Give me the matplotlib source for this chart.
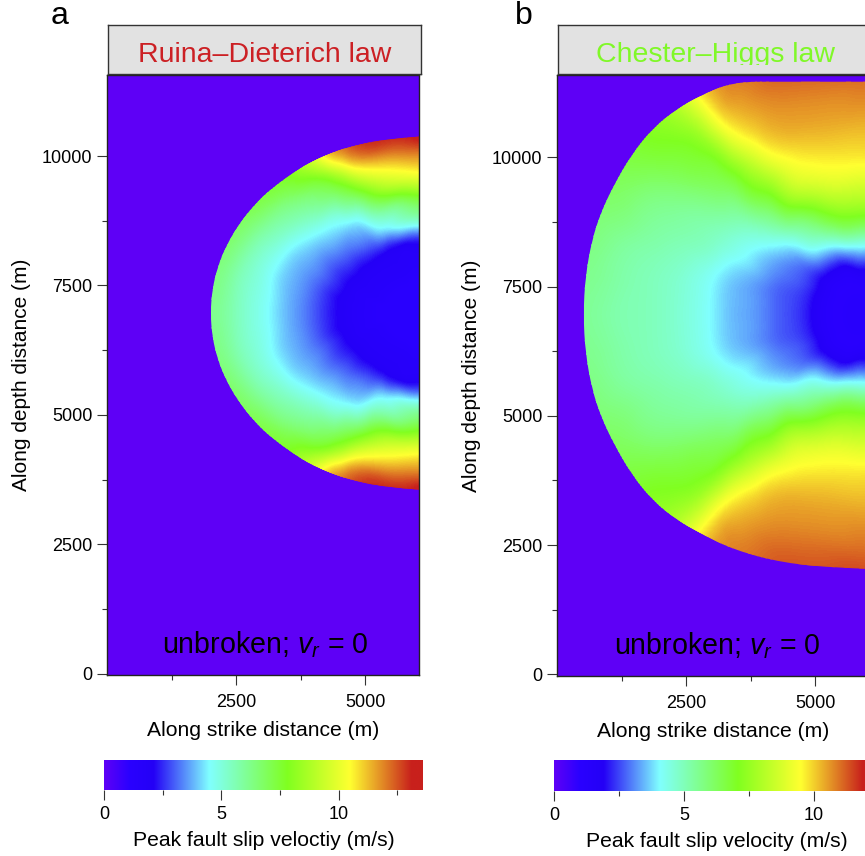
# -*- coding: utf-8 -*-
import numpy as np
import matplotlib
matplotlib.use('Agg')
import matplotlib.pyplot as plt
import matplotlib.tri as mtri
from matplotlib.colors import LinearSegmentedColormap
from matplotlib.path import Path
from matplotlib.patches import PathPatch, Rectangle

plt.rcParams['font.family'] = ['Liberation Sans', 'DejaVu Sans']
plt.rcParams['mathtext.fontset'] = 'custom'
plt.rcParams['mathtext.rm'] = 'Liberation Sans'
plt.rcParams['mathtext.it'] = 'Liberation Sans:italic'

W, H = 865, 856

# colour scale stops
cmap_pos = [0, 0.08, 0.155, 0.33, 0.575, 0.772, 0.965, 1]
cmap_col = ['#5e00f6', '#2a00ff', '#2400f6', '#80ffff', '#80ff20', '#ffff30', '#c8201c', '#c8201c']

# fractions of the way from the patch centre to the rim
frac = [0, 0.1, 0.2, 0.3, 0.41, 0.5, 0.6, 0.7, 0.8, 0.9, 1.0]

# panel a: rim of the broken patch, left edge to the top, offset from centre depth
center_a = (6040, 6965)
rim_x_a = [2000, 2039, 2138, 2294, 2541, 2856, 3183, 3723, 4020, 4333, 4658, 5338, 6040]
rim_off_a = [0, 475, 883, 1277, 1705, 2099, 2411, 2793, 2953, 3090, 3204, 3358, 3410]
peak_a = [
    [1.2, 1.2, 1.3, 1.6, 2.2, 2.9, 3.6, 4.3, 5.0, 5.7, 6.2],
    [1.2, 1.2, 1.3, 1.6, 2.2, 2.9, 3.6, 4.3, 5.0, 5.7, 6.3],
    [1.2, 1.2, 1.3, 1.6, 2.2, 2.9, 3.6, 4.2, 5.0, 5.7, 6.4],
    [1.2, 1.2, 1.4, 1.6, 2.3, 3.0, 3.6, 4.2, 5.0, 5.8, 6.6],
    [1.2, 1.2, 1.4, 1.7, 2.3, 3.0, 3.7, 4.3, 5.2, 6.0, 6.8],
    [1.2, 1.2, 1.4, 1.7, 2.4, 3.1, 3.8, 4.6, 5.5, 6.3, 7.1],
    [1.2, 1.2, 1.4, 1.7, 2.4, 3.2, 4.0, 4.9, 5.8, 6.6, 7.4],
    [1.2, 1.2, 1.4, 1.7, 2.5, 3.4, 4.2, 5.3, 6.5, 7.4, 8.4],
    [1.2, 1.2, 1.4, 1.7, 2.5, 3.5, 4.4, 5.9, 7.0, 8.2, 9.6],
    [1.2, 1.2, 1.4, 1.7, 2.5, 3.9, 5.0, 6.4, 7.9, 9.6, 11.3],
    [1.2, 1.2, 1.4, 1.7, 2.4, 4.2, 5.7, 7.3, 9.0, 11.0, 12.3],
    [1.2, 1.2, 1.3, 1.6, 2.3, 4.6, 6.0, 8.2, 10.1, 11.7, 13.0],
    [1.2, 1.2, 1.3, 1.6, 2.3, 4.6, 6.6, 8.5, 10.5, 11.9, 13.3],
]

# panel b: same layout, read against the colours of the panel a bar (see scale_b)
center_b = (6040, 6960)
rim_x_b = [510, 550, 680, 850, 1092, 1447, 1867, 2319, 2771, 3417, 4386, 5484, 6040]
rim_off_b = [0, 742, 1452, 1968, 2484, 3097, 3613, 3968, 4226, 4549, 4807, 4904, 4917]
peak_b = [
    [1.3, 1.3, 2.1, 2.9, 3.6, 4.0, 4.8, 5.3, 5.6, 5.8, 6.1],
    [1.3, 1.3, 2.1, 2.9, 3.6, 4.0, 4.8, 5.3, 5.6, 5.9, 6.2],
    [1.3, 1.3, 2.1, 2.9, 3.6, 4.1, 4.9, 5.4, 5.7, 6.0, 6.4],
    [1.3, 1.3, 2.1, 3.0, 3.8, 4.4, 5.2, 5.6, 5.9, 6.3, 6.6],
    [1.3, 1.3, 2.1, 3.1, 3.9, 4.7, 5.4, 5.8, 6.1, 6.5, 6.9],
    [1.3, 1.3, 2.0, 3.2, 4.3, 5.1, 5.8, 6.3, 6.7, 7.1, 7.4],
    [1.3, 1.3, 2.0, 3.6, 5.0, 5.9, 6.5, 7.0, 7.4, 7.7, 8.0],
    [1.3, 1.3, 2.0, 4.2, 5.7, 6.7, 7.6, 7.9, 8.2, 8.5, 8.8],
    [1.3, 1.3, 2.0, 4.5, 6.2, 7.7, 8.4, 9.2, 10.0, 10.5, 10.6],
    [1.3, 1.3, 2.0, 4.8, 7.0, 8.7, 9.8, 10.7, 11.3, 11.7, 12.0],
    [1.3, 1.3, 2.3, 5.4, 8.0, 9.4, 10.5, 11.2, 11.7, 12.1, 12.5],
    [1.3, 1.3, 2.6, 5.5, 8.2, 9.5, 10.6, 11.2, 11.7, 12.1, 12.6],
    [1.3, 1.3, 2.5, 5.4, 8.2, 9.5, 10.6, 11.2, 11.7, 12.1, 12.6],
]
scale_b = 0.9
top_b = 11460  # rupture stops flat at the free surface

titles = ['Ruina\u2013Dieterich law', 'Chester\u2013Higgs law']
title_colors = ['#cc2024', '#80f828']
bar_labels = ['Peak fault slip veloctiy (m/s)', 'Peak fault slip velocity (m/s)']
vmaxs = [13.6, 12.27]
xlims = [(0, 6035), (0, 6045)]
ylims = [(-25, 11565), (-30, 11590)]

major_x = [2500, 5000]
minor_x = [1250, 3750]
major_y = [0, 2500, 5000, 7500, 10000]
minor_y = [1250, 3750, 6250, 8750]
bar_major = [0, 5, 10]
bar_minor = [2.5, 7.5, 12.5]

rain = LinearSegmentedColormap.from_list('rain', list(zip(cmap_pos, cmap_col)), N=512)
fig = plt.figure(figsize=(W / 100, H / 100), dpi=100)


def px_axes(x0, y0, x1, y1):
    return fig.add_axes([x0 / W, 1 - y1 / H, (x1 - x0) / W, (y1 - y0) / H])


def rim_path(center, rim_x, rim_off, top=None):
    # smooth outline through the rim readings, closed on the far side of the axes
    up = np.column_stack([rim_x, center[1] + np.array(rim_off)])
    down = np.column_stack([rim_x, center[1] - np.array(rim_off)])
    if top is not None:
        up[:, 1] = np.minimum(up[:, 1], top)
    pts = np.vstack([up[::-1], down[1:]])
    verts = [tuple(pts[0])]
    codes = [Path.MOVETO]
    for i in range(1, len(pts) - 1):
        end = pts[i + 1] if i == len(pts) - 2 else (pts[i] + pts[i + 1]) / 2
        verts += [tuple(pts[i]), tuple(end)]
        codes += [Path.CURVE3, Path.CURVE3]
    verts += [(7500, pts[-1][1]), (7500, pts[0][1]), tuple(pts[0])]
    codes += [Path.LINETO, Path.LINETO, Path.CLOSEPOLY]
    return Path(verts, codes)


def draw_field(ax, center, rim_x, rim_off, peak, vmax, top=None):
    # one more ring just outside the rim, so the clip outline decides the edge
    fr = np.array(frac[1:] + [1.06])
    peak = np.array(peak, dtype=float)
    peak = np.column_stack([peak, peak[:, -1]])
    rim_x = np.array(rim_x, dtype=float)
    rim_off = np.array(rim_off, dtype=float)
    xs = [center[0]]
    ys = [center[1]]
    zs = [peak[0, 0]]
    for i in range(len(rim_x)):
        for sign in (1, -1):
            if sign == -1 and i == 0:
                continue
            xs += list(center[0] + fr * (rim_x[i] - center[0]))
            ys += list(center[1] + sign * fr * rim_off[i])
            zs += list(peak[i, 1:])
    tri = mtri.Triangulation(xs, ys)
    fine, zfine = mtri.UniformTriRefiner(tri).refine_field(np.array(zs), subdiv=2)
    cs = ax.tricontourf(fine, zfine, levels=np.linspace(0, vmax, 256), cmap=rain,
                        vmin=0, vmax=vmax, extend='both', antialiased=False)
    cs.set_clip_path(PathPatch(rim_path(center, rim_x, rim_off, top), transform=ax.transData))
    return cs


def style_ticks(ax):
    ax.tick_params(which='major', length=7, width=0.8, labelsize=13, color='#333333')
    ax.tick_params(which='minor', length=3.8, width=0.8, color='#333333')


fields = [(center_a, rim_x_a, rim_off_a, np.array(peak_a), None),
          (center_b, rim_x_b, rim_off_b, np.array(peak_b) * scale_b, top_b)]
main_boxes = [(107, 75, 419, 675), (557, 75, 869, 676)]
title_boxes = [(107.5, 25, 421, 74), (558, 25, 872, 74)]
bar_boxes = [(104, 760, 423, 790), (554, 760, 879, 791)]
letters = ['a', 'b']
letter_x = [51, 515]
note_x = [0.506, 0.513]

for k in range(2):
    ax = px_axes(*main_boxes[k])
    ax.set_facecolor(cmap_col[0])
    center, rx, ro, pk, top = fields[k]
    draw_field(ax, center, rx, ro, pk, vmaxs[k], top)
    ax.set_xlim(*xlims[k])
    ax.set_ylim(*ylims[k])
    ax.set_xticks(major_x)
    ax.set_xticks(minor_x, minor=True)
    ax.set_yticks(major_y)
    ax.set_yticks(minor_y, minor=True)
    style_ticks(ax)
    ax.tick_params(axis='x', which='major', pad=7)
    ax.set_xlabel('Along strike distance (m)', fontsize=15.2, labelpad=7)
    ax.set_ylabel('Along depth distance (m)', fontsize=15, labelpad=8)
    for s in ax.spines.values():
        s.set_linewidth(1.0)
        s.set_color('#222222')
    ax.text(note_x[k], 0.05, 'unbroken; $v_r$ = 0', transform=ax.transAxes, ha='center',
            va='center', fontsize=20.6, color='black')

    tb = px_axes(*title_boxes[k])
    tb.set_facecolor('#e2e2e2')
    tb.set_xticks([])
    tb.set_yticks([])
    for s in tb.spines.values():
        s.set_linewidth(1.0)
        s.set_color('#333333')
    # the title text is cut off a little above the box's lower edge
    tt = tb.text(0.5, 0.38, titles[k], transform=tb.transAxes, ha='center',
                 va='center', fontsize=20.5, color=title_colors[k])
    tt.set_clip_path(Rectangle((0, 0.18), 1, 0.82, transform=tb.transAxes))
    tt.set_clip_on(True)

    fig.text(letter_x[k] / W, 1 - 16 / H, letters[k], fontsize=23, ha='left', va='center')

    cb = px_axes(*bar_boxes[k])
    cb.imshow(np.linspace(0, 1, 512)[None, :], aspect='auto', cmap=rain, vmin=0, vmax=1,
              extent=[0, vmaxs[k], 0, 1])
    cb.set_yticks([])
    cb.set_xticks(bar_major)
    cb.set_xticks(bar_minor, minor=True)
    style_ticks(cb)
    cb.tick_params(axis='x', which='major', pad=4.5)
    cb.set_xlabel(bar_labels[k], fontsize=15.2, labelpad=6)
    for s in cb.spines.values():
        s.set_visible(False)

fig.savefig('out.png', dpi=100)
